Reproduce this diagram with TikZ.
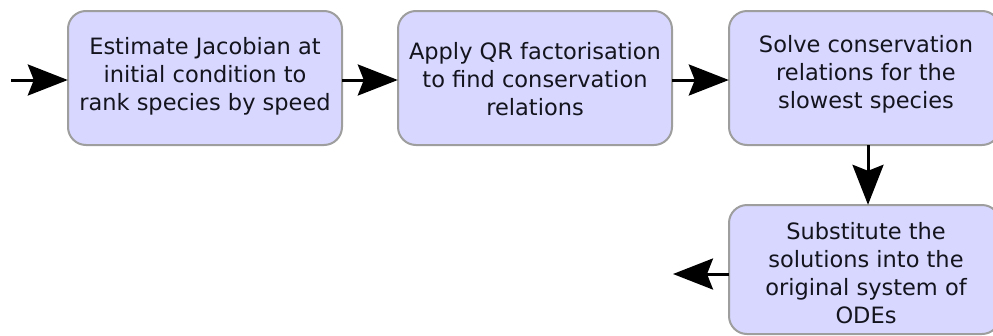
\documentclass[tikz,border=0pt]{standalone}
\usepackage{fontspec}
\setmainfont{DejaVu Sans}
\usetikzlibrary{arrows.meta}
\definecolor{boxfill}{RGB}{215,215,255}
\definecolor{boxline}{RGB}{158,158,158}
\definecolor{txt}{RGB}{20,20,30}
\begin{document}
\begin{tikzpicture}[x=1pt,y=1pt,
  stepbox/.style={draw=boxline, line width=2pt, fill=boxfill, rounded corners=18pt, inner sep=0pt, outer sep=0pt},
  boxtext/.style={align=center, text=txt, font=\fontsize{22.5}{27.8}\selectfont, inner sep=0pt},
  flow/.style={line width=3pt, -{Stealth[length=40pt, width=31pt, inset=6pt]}}]
\useasboundingbox (0,0) rectangle (993,-335);
\clip (0,0) rectangle (993,-335);
\path[stepbox] (68,-11) rectangle (342,-145);
\node[minimum width=274pt, minimum height=134pt, inner sep=0pt] (b1) at (205,-78) {};
\path[stepbox] (398,-11) rectangle (672,-145);
\node[minimum width=274pt, minimum height=134pt, inner sep=0pt] (b2) at (535,-78) {};
\path[stepbox] (729,-11) rectangle (1000,-145);
\node[minimum width=271pt, minimum height=134pt, inner sep=0pt] (b3) at (864.5,-78) {};
\path[stepbox] (729,-205) rectangle (1000,-334);
\node[minimum width=271pt, minimum height=129pt, inner sep=0pt] (b4) at (864.5,-269.5) {};
\node[boxtext] (t1) at (205,-76) {Estimate Jacobian at\\initial condition to\\rank species by speed};
\node[boxtext] (t2) at (535,-79) {Apply QR factorisation\\to find conservation\\relations};
\node[boxtext] (t3) at (866,-74) {Solve conservation\\relations for the\\slowest species};
\node[boxtext] (t4) at (866,-273) {Substitute the\\solutions into the\\original system of\\ODEs};
\coordinate (in) at (11,-80);
\coordinate (out) at (673,-274);
\draw[flow] (in) -- (b1.west |- in);
\draw[flow] ([yshift=-2pt]b1.east) -- ([yshift=-2pt]b2.west);
\draw[flow] ([yshift=-2pt]b2.east) -- ([yshift=-2pt]b3.west);
\draw[flow] ([xshift=3.5pt]b3.south) -- ([xshift=3.5pt]b4.north);
\draw[flow] (b4.west |- out) -- (out);
\end{tikzpicture}
\end{document}
